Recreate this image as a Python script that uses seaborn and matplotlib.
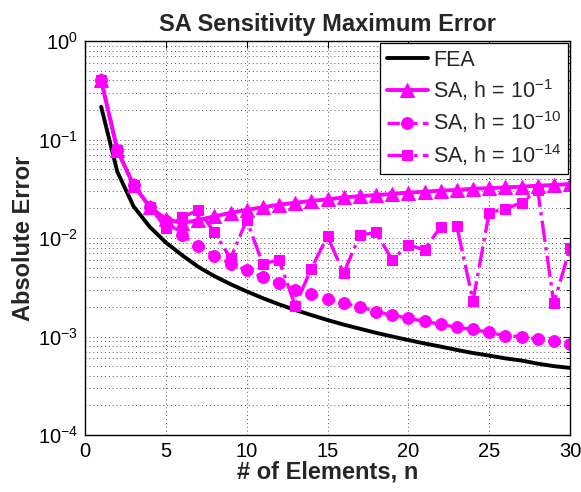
import numpy as np
import pandas as pd
import matplotlib
matplotlib.use("Agg")
import matplotlib.pyplot as plt
import seaborn as sns
from matplotlib.ticker import LogLocator, NullFormatter, MultipleLocator

n = list(range(1, 31))
fea = [0.215, 0.047, 0.021, 0.0130, 0.0090, 0.0067, 0.0051, 0.0041, 0.0034, 0.00287,
       0.00245, 0.00212, 0.00186, 0.00165, 0.00147, 0.00132, 0.00120, 0.00109, 0.00100, 0.00092,
       0.00085, 0.00079, 0.00073, 0.00068, 0.00064, 0.00060, 0.00057, 0.00053, 0.00050, 0.00048]
sa_h1 = [0.40, 0.078, 0.0345, 0.0208, 0.0156, 0.0142, 0.0152, 0.0166, 0.0180, 0.0193,
         0.0205, 0.0218, 0.0228, 0.0238, 0.0247, 0.0258, 0.0266, 0.0273, 0.0280, 0.0289,
         0.0295, 0.0303, 0.0307, 0.0317, 0.0320, 0.0327, 0.0332, 0.0340, 0.0345, 0.0353]
sa_h10 = [0.40, 0.078, 0.0345, 0.0208, 0.0150, 0.0107, 0.0083, 0.0066, 0.0055, 0.0047,
          0.0040, 0.0035, 0.0030, 0.0027, 0.0024, 0.00217, 0.00201, 0.00179, 0.00165, 0.00153,
          0.00143, 0.00133, 0.00124, 0.00118, 0.00110, 0.00102, 0.00100, 0.00094, 0.00089, 0.00083]
sa_h14 = [0.40, 0.078, 0.0345, 0.0208, 0.0127, 0.0162, 0.0192, 0.0115, 0.0062, 0.0152,
          0.00545, 0.0060, 0.00205, 0.0049, 0.0104, 0.0044, 0.0107, 0.0114, 0.0060, 0.0085,
          0.0076, 0.0130, 0.0132, 0.0023, 0.0181, 0.0197, 0.0229, 0.0307, 0.00217, 0.0079]

labels = ["FEA", r"SA, h = $10^{-1}$", r"SA, h = $10^{-10}$", r"SA, h = $10^{-14}$"]

df = pd.DataFrame({"n": n, "FEA": fea, "h1": sa_h1, "h10": sa_h10, "h14": sa_h14})

sns.set_style("white")
plt.rcParams["font.family"] = ["Liberation Sans", "DejaVu Sans"]
plt.rcParams["mathtext.fontset"] = "custom"
plt.rcParams["mathtext.rm"] = "Liberation Sans"
plt.rcParams["mathtext.it"] = "Liberation Sans:italic"
plt.rcParams["mathtext.bf"] = "Liberation Sans:bold"

fig = plt.figure(figsize=(5.81, 4.92), dpi=100)
ax = fig.add_axes([85/581, 1-435/492, 485/581, 394/492])

mag = "#FF00FF"
sns.lineplot(data=df, x="n", y="FEA", ax=ax, color="black", lw=2.8, label=labels[0])
sns.lineplot(data=df, x="n", y="h1", ax=ax, color=mag, lw=2.8, marker="^", markersize=9.5,
             markeredgecolor=mag, label=labels[1])
sns.lineplot(data=df, x="n", y="h10", ax=ax, color=mag, lw=2.4, linestyle="--", marker="o",
             markersize=8.5, markeredgecolor=mag, label=labels[2])
sns.lineplot(data=df, x="n", y="h14", ax=ax, color=mag, lw=2.4, linestyle="-.", marker="s",
             markersize=7.5, markeredgecolor=mag, label=labels[3])

ax.set_yscale("log")
ax.set_xlim(0, 30)
ax.set_ylim(1e-4, 1)
ax.xaxis.set_major_locator(MultipleLocator(5))
ax.yaxis.set_major_locator(LogLocator(base=10, numticks=10))
ax.yaxis.set_minor_locator(LogLocator(base=10, subs=np.arange(2, 10), numticks=10))
ax.yaxis.set_minor_formatter(NullFormatter())

gstyle = dict(color="#555555", linestyle=(0, (1, 3)), linewidth=0.7)
ax.grid(True, which="major", axis="both", **gstyle)
ax.grid(True, which="minor", axis="y", **gstyle)

ax.tick_params(axis="both", which="both", direction="in", top=True, right=True,
               labelsize=14.5, colors="black")
ax.tick_params(which="major", length=5, width=0.8, pad=5)
ax.tick_params(which="minor", length=3, width=0.6)
for s in ax.spines.values():
    s.set_color("black")
    s.set_linewidth(1.0)

ax.set_title("SA Sensitivity Maximum Error", fontsize=17, fontweight="bold", pad=7)
ax.set_xlabel("# of Elements, n", fontsize=17, fontweight="bold", labelpad=0)
ax.set_ylabel("Absolute Error", fontsize=17, fontweight="bold", labelpad=2)

leg = ax.legend(loc="upper right", fontsize=15.5, frameon=True, fancybox=False,
                borderaxespad=0.1, handlelength=1.9, labelspacing=0.3, borderpad=0.3,
                handletextpad=0.25)
leg.get_frame().set_edgecolor("black")
leg.get_frame().set_linewidth(0.9)
leg.get_frame().set_alpha(1)

fig.savefig("out.png", dpi=100)
